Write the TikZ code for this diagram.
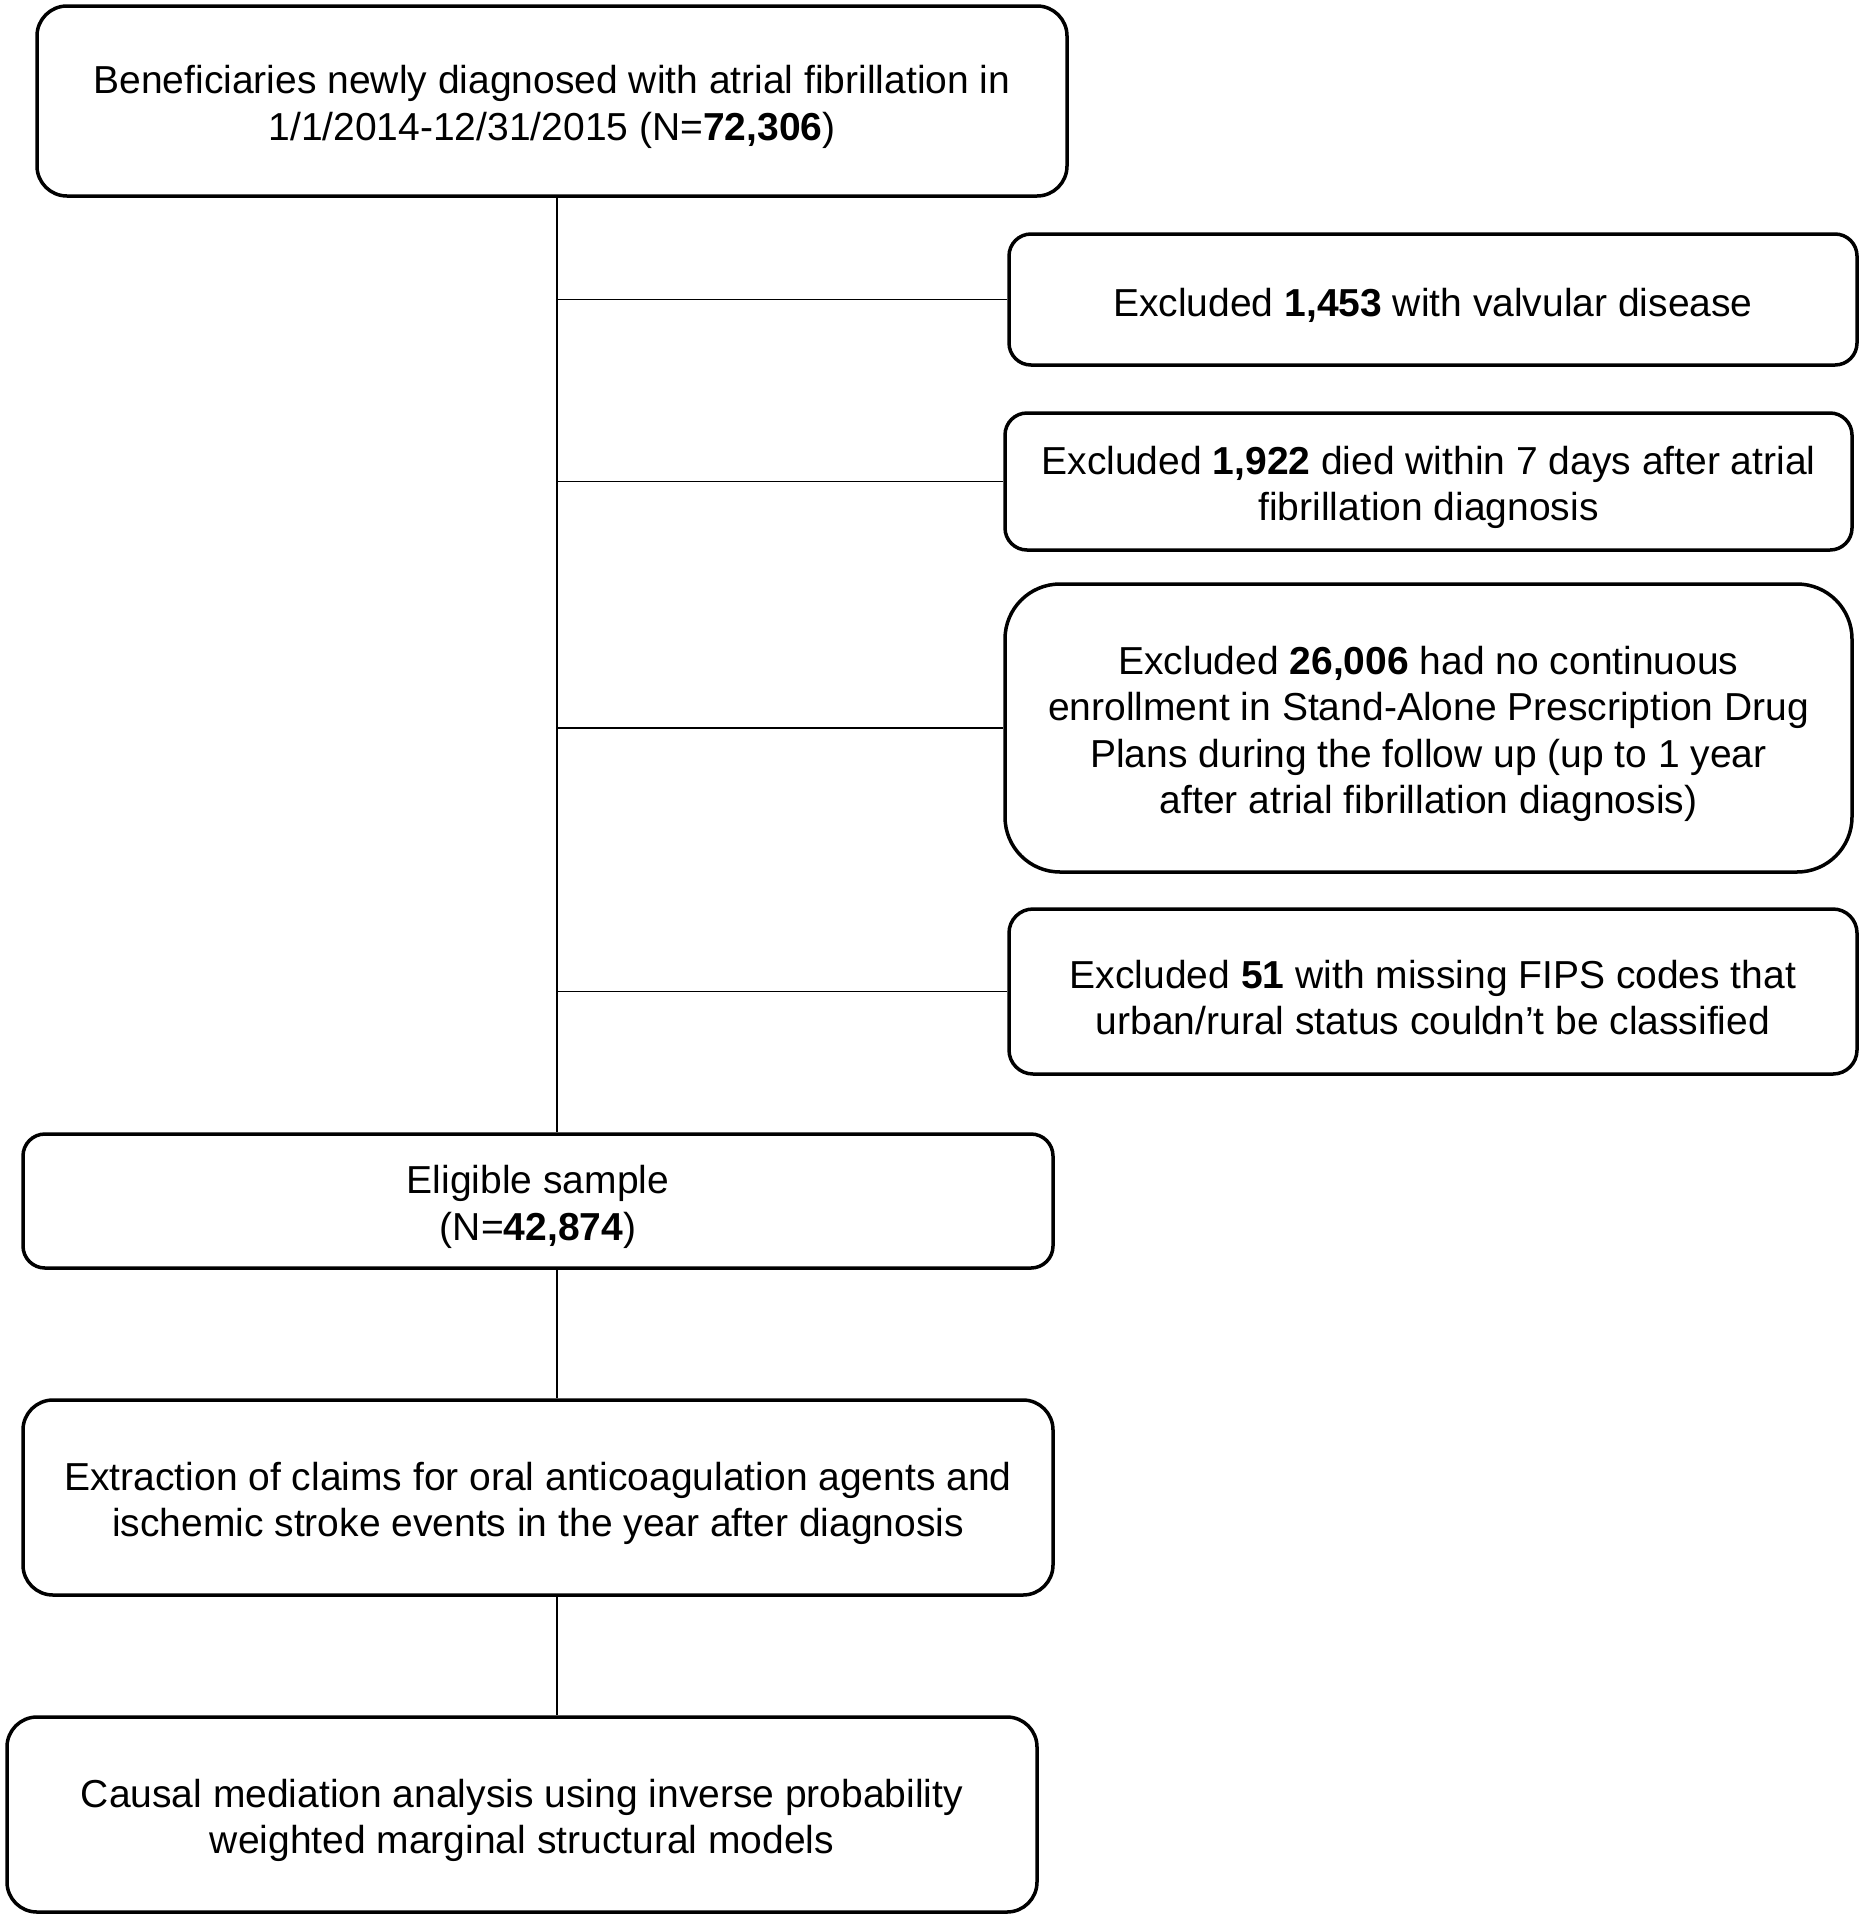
\documentclass[tikz,border=0pt]{standalone}
\usepackage{fontspec}
\setmainfont{Liberation Sans}
\begin{document}
\begin{tikzpicture}[x=1pt,y=-1pt,
  box/.style={draw=black, line width=3.5pt, rounded corners=#1, inner sep=0pt},
  box/.default=26pt,
  lab/.style={align=center, inner sep=0pt, yshift=-6pt, font=\fontsize{39}{46.5}\selectfont},
  conn/.style={draw=black, line width=1.5pt}]
\useasboundingbox (0,0) rectangle (1864,1920);
\node[box=30pt, minimum width=1030pt, minimum height=190pt,
  label={[lab, name=t1]center:{Beneficiaries newly diagnosed with atrial fibrillation in\\1/1/2014-12/31/2015 (N=\textbf{72,306})}}] (b1) at (552,101) {};
\node[box=22pt, minimum width=848pt, minimum height=131pt,
  label={[lab, name=t2]center:{Excluded \textbf{1,453} with valvular disease}}] (b2) at (1433,299.5) {};
\node[box=22pt, minimum width=847pt, minimum height=137pt,
  label={[lab, name=t3]center:{Excluded \textbf{1,922} died within 7 days after atrial\\fibrillation diagnosis}}] (b3) at (1428.5,481.5) {};
\node[box=55pt, minimum width=847pt, minimum height=288pt,
  label={[lab, name=t4]center:{Excluded \textbf{26,006} had no continuous\\enrollment in Stand-Alone Prescription Drug\\Plans during the follow up (up to 1 year\\after atrial fibrillation diagnosis)}}] (b4) at (1428.5,728) {};
\node[box=24pt, minimum width=848pt, minimum height=165pt,
  label={[lab, name=t5]center:{Excluded \textbf{51} with missing FIPS codes that\\urban/rural status couldn’t be classified}}] (b5) at (1433,991.5) {};
\node[box=22pt, minimum width=1030pt, minimum height=134pt,
  label={[lab, name=t6]center:{Eligible sample\\(N=\textbf{42,874})}}] (b6) at (538,1201) {};
\node[box=30pt, minimum width=1030pt, minimum height=195pt,
  label={[lab, name=t7]center:{Extraction of claims for oral anticoagulation agents and\\ischemic stroke events in the year after diagnosis}}] (b7) at (538,1497.5) {};
\node[box=30pt, minimum width=1030pt, minimum height=195pt,
  label={[lab, name=t8]center:{Causal mediation analysis using inverse probability\\weighted marginal structural models}}] (b8) at (522,1814.5) {};
\coordinate (tx) at (557,600);
\draw[conn] (b1.south -| tx) -- (b6.north -| tx);
\draw[conn] (tx |- b2.west) -- (b2.west);
\draw[conn] (tx |- b3.west) -- (b3.west);
\draw[conn] (tx |- b4.west) -- (b4.west);
\draw[conn] (tx |- b5.west) -- (b5.west);
\draw[conn] (b6.south -| tx) -- (b7.north -| tx);
\draw[conn] (b7.south -| tx) -- (b8.north -| tx);
\end{tikzpicture}
\end{document}
